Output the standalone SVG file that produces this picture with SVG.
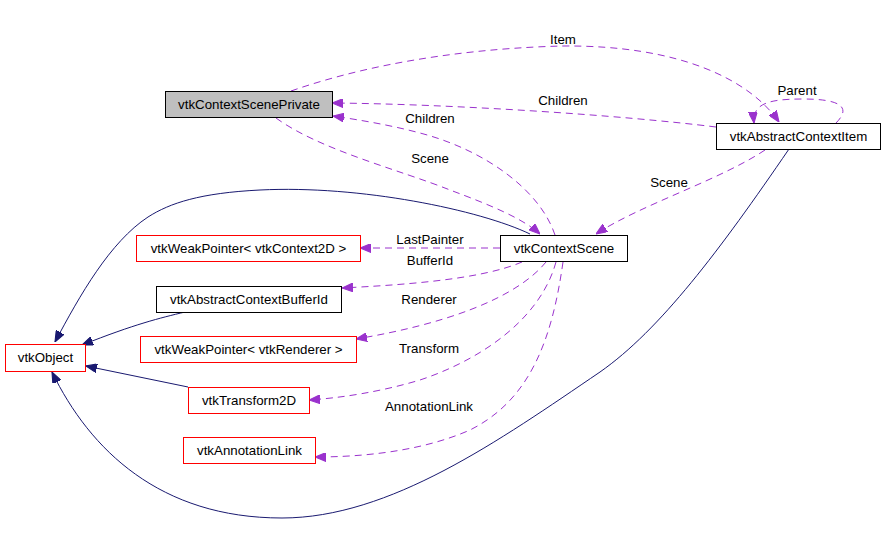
<svg xmlns="http://www.w3.org/2000/svg" width="885" height="548" viewBox="0 0 885 548">
<style>
.blk{fill:#ffffff;stroke:#000000;stroke-width:1}
.red{fill:#ffffff;stroke:#ff0000;stroke-width:1}
.gray{fill:#bfbfbf;stroke:#000000;stroke-width:1}
text{font-family:"Liberation Sans",Arial,sans-serif;font-size:13.3px;fill:#000000;text-anchor:middle}
.use{fill:none;stroke:#9a32cd;stroke-width:1;stroke-dasharray:7,5}
.inh{fill:none;stroke:#191970;stroke-width:1}
</style>
<defs>
<marker id="ap" viewBox="0 0 10 8" refX="10" refY="4" markerWidth="11" markerHeight="9" markerUnits="userSpaceOnUse" orient="auto">
<path d="M0,0 L10,4 L0,8 z" fill="#9a32cd" stroke="#9a32cd" stroke-dasharray="none"/>
</marker>
<marker id="an" viewBox="0 0 10 8" refX="10" refY="4" markerWidth="11" markerHeight="9" markerUnits="userSpaceOnUse" orient="auto">
<path d="M0,0 L10,4 L0,8 z" fill="#191970" stroke="#191970"/>
</marker>
</defs>
<g id="connectors">
<path class="inh" d="M530,234 C480,210 360,185 260,190 C200,193 170,203 148,217 C110,242 80,295 55,342" marker-end="url(#an)"/>
<path class="inh" d="M185,312 C160,318 135,324 82,345" marker-end="url(#an)"/>
<path class="inh" d="M188,387 L86,366" marker-end="url(#an)"/>
<path class="inh" d="M789,149 C720,250 660,330 600,372 C500,440 390,518 282,518 C160,518 90,450 52,372" marker-end="url(#an)"/>
<path class="use" d="M291,91 C380,60 480,48 563,46 C680,45 750,80 779,122" marker-end="url(#ap)"/>
<text x="563" y="44">Item</text>
<path class="use" d="M716,127 C620,115 450,104 332,103" marker-end="url(#ap)"/>
<text x="563" y="105">Children</text>
<path class="use" d="M555,235 C540,190 485,150 420,133 C390,125 360,120 333,116" marker-end="url(#ap)"/>
<text x="430" y="123">Children</text>
<path class="use" d="M276,118 C320,150 400,170 450,190 C490,205 522,218 540,234" marker-end="url(#ap)"/>
<text x="430" y="163">Scene</text>
<path class="use" d="M765,150 C720,180 640,205 596,234" marker-end="url(#ap)"/>
<text x="669" y="187">Scene</text>
<path class="use" d="M836,123 C852,107 840,99 803,99 C770,99 752,103 754,123" marker-end="url(#ap)"/>
<text x="797" y="95">Parent</text>
<path class="use" d="M500,248 L360,248" marker-end="url(#ap)"/>
<text x="430" y="244">LastPainter</text>
<path class="use" d="M522,262 C480,280 400,285 342,288" marker-end="url(#ap)"/>
<text x="430" y="265">BufferId</text>
<path class="use" d="M546,262 C515,300 440,325 356,339" marker-end="url(#ap)"/>
<text x="429" y="304">Renderer</text>
<path class="use" d="M556,262 C540,320 480,360 420,380 C380,392 340,398 309,400" marker-end="url(#ap)"/>
<text x="429" y="353">Transform</text>
<path class="use" d="M563,262 C552,340 530,400 470,430 C420,452 360,457 315,457" marker-end="url(#ap)"/>
<text x="429" y="411">AnnotationLink</text>
</g>
<g id="vtkContextScenePrivate">
<rect class="gray" x="165.5" y="91.5" width="167" height="26"/>
<text x="249" y="109">vtkContextScenePrivate</text>
</g>
<g id="vtkAbstractContextItem">
<rect class="blk" x="716.5" y="123.5" width="164" height="26"/>
<text x="798.5" y="141">vtkAbstractContextItem</text>
</g>
<g id="vtkContextScene">
<rect class="blk" x="500.5" y="235.5" width="127" height="26"/>
<text x="564" y="253">vtkContextScene</text>
</g>
<g id="vtkWeakPointerContext2D">
<rect class="red" x="136.5" y="235.5" width="224" height="26"/>
<text x="248.5" y="253">vtkWeakPointer&lt; vtkContext2D &gt;</text>
</g>
<g id="vtkAbstractContextBufferId">
<rect class="blk" x="156.5" y="286.5" width="185" height="26"/>
<text x="249" y="304">vtkAbstractContextBufferId</text>
</g>
<g id="vtkObject">
<rect class="red" x="5.5" y="344.5" width="80" height="27"/>
<text x="45.5" y="362">vtkObject</text>
</g>
<g id="vtkWeakPointerRenderer">
<rect class="red" x="140.5" y="336.5" width="216" height="26"/>
<text x="248.5" y="354">vtkWeakPointer&lt; vtkRenderer &gt;</text>
</g>
<g id="vtkTransform2D">
<rect class="red" x="188.5" y="387.5" width="121" height="26"/>
<text x="249" y="405">vtkTransform2D</text>
</g>
<g id="vtkAnnotationLink">
<rect class="red" x="183.5" y="437.5" width="132" height="26"/>
<text x="249.5" y="455">vtkAnnotationLink</text>
</g>
</svg>
